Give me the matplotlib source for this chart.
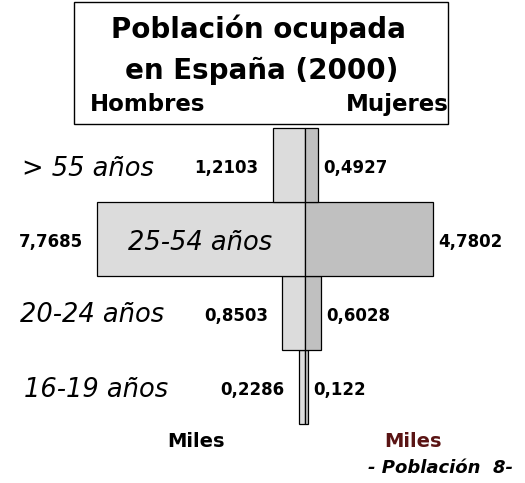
import matplotlib
matplotlib.use("Agg")
import matplotlib.pyplot as plt
from matplotlib.patches import Rectangle

plt.rcParams['font.family'] = ['DejaVu Sans']

groups = ["16-19 años", "20-24 años", "25-54 años", "> 55 años"]
hombres = [0.2286, 0.8503, 7.7685, 1.2103]
mujeres = [0.122, 0.6028, 4.7802, 0.4927]
hombres_lbl = ["0,2286", "0,8503", "7,7685", "1,2103"]
mujeres_lbl = ["0,122", "0,6028", "4,7802", "0,4927"]

W, H = 525, 483
fig = plt.figure(figsize=(W / 100, H / 100), dpi=100)
fig.patch.set_facecolor("white")

px_per_unit = 26.8
cx = 305
ax = fig.add_axes([0, 0, 1, 1])
ax.set_xlim(-cx / px_per_unit, (W - cx) / px_per_unit)
bar_px = 74
y0_px = 96  # from bottom, center of first bar
ax.set_ylim(-y0_px / bar_px, (H - y0_px) / bar_px)
ax.axis("off")

ypos = list(range(len(groups)))
ax.barh(ypos, [-v for v in hombres], height=1, color="#dcdcdc",
        edgecolor="black", linewidth=0.9, zorder=2)
ax.barh(ypos, mujeres, height=1, color="#c0c0c0",
        edgecolor="black", linewidth=0.9, zorder=2)

vfs = 12
gap_l = 14 / px_per_unit
gap_r = 5 / px_per_unit
dy = -7.5 / bar_px
for i in ypos:
    ax.text(-hombres[i] - gap_l, i + dy, hombres_lbl[i], ha="right",
            va="baseline", fontsize=vfs, fontweight="bold")
    ax.text(mujeres[i] + gap_r, i + dy, mujeres_lbl[i], ha="left",
            va="baseline", fontsize=vfs, fontweight="bold")

def fpx(x, y):
    return x / W, 1 - y / H

lfs = 18.5
label_pos = {"> 55 años": (88, 176), "25-54 años": (200, 250),
             "20-24 años": (92, 322), "16-19 años": (96, 397)}
for g in groups:
    x, y = label_pos[g]
    fig.text(*fpx(x, y), g, ha="center", va="baseline", fontsize=lfs,
             style="italic")

# title box
box = Rectangle((74 / W, 1 - 124 / H), (448 - 74) / W, 122 / H,
                transform=fig.transFigure, facecolor="white",
                edgecolor="black", linewidth=1.0, zorder=5)
fig.patches.append(box)
fig.text(*fpx(258, 38), "Población ocupada", ha="center", va="baseline",
         fontsize=20, fontweight="bold", zorder=6)
fig.text(*fpx(262, 79), "en España (2000)", ha="center", va="baseline",
         fontsize=20, fontweight="bold", zorder=6)
fig.text(*fpx(148, 111), "Hombres", ha="center", va="baseline",
         fontsize=16.5, fontweight="bold", zorder=6)
fig.text(*fpx(397, 111), "Mujeres", ha="center", va="baseline",
         fontsize=16.5, fontweight="bold", zorder=6)

fig.text(*fpx(196, 447), "Miles", ha="center", va="baseline",
         fontsize=14, fontweight="bold", color="black")
fig.text(*fpx(413, 447), "Miles", ha="center", va="baseline",
         fontsize=14, fontweight="bold", color="#5a1414")
fig.text(*fpx(513, 473), "- Población  8-", ha="right", va="baseline",
         fontsize=13, fontweight="bold", style="italic")

fig.savefig("out.png", dpi=100, facecolor="white")
